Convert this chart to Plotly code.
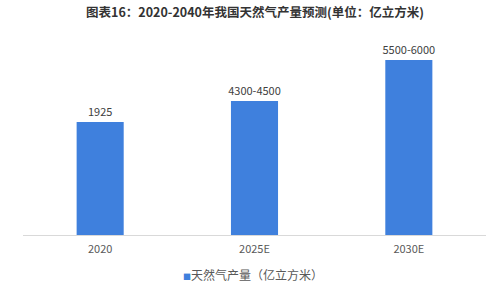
import plotly.graph_objects as go

categories = ["2020", "2025E", "2030E"]
# bar heights as drawn (the source chart is not to scale; estimated from pixel heights)
bar_values = [1925, 2283, 2981]
value_labels = ["1925", "4300-4500", "5500-6000"]
series_name = "天然气产量（亿立方米）"
title_text = "图表16：2020-2040年我国天然气产量预测(单位：亿立方米)"

FONT = "Noto Sans CJK SC"
BAR_COLOR = "#3F80DD"

fig = go.Figure()
fig.add_trace(go.Bar(
    x=categories,
    y=bar_values,
    name=series_name,
    text=value_labels,
    textposition="outside",
    constraintext="none",
    cliponaxis=False,
    textfont=dict(size=11, color="#404040", family=FONT),
    marker=dict(color=BAR_COLOR, line=dict(width=0)),
    showlegend=False,
))

fig.add_annotation(
    xref="paper", yref="paper", x=0.497, y=-0.205, xanchor="center", yanchor="middle",
    showarrow=False,
    text="<span style='color:" + BAR_COLOR + ";font-size:8px'>■</span>" + series_name,
    font=dict(size=12, color="#595959", family=FONT),
)

fig.update_layout(
    width=500, height=284,
    margin=dict(l=23, r=14, t=40, b=49, autoexpand=False),
    paper_bgcolor="white", plot_bgcolor="white",
    bargap=0.695,
    font=dict(family=FONT, color="#595959"),
    title=dict(text="<b>" + title_text + "</b>", x=0.51, xanchor="center",
               y=1 - 13 / 284, yanchor="middle",
               font=dict(size=12.5, color="#333333", family=FONT)),
    xaxis=dict(showline=True, linecolor="#D9D9D9", linewidth=1,
               showgrid=False, ticks="", ticklabelstandoff=4,
               tickfont=dict(size=11, color="#595959")),
    yaxis=dict(visible=False, range=[0, 3322]),
    showlegend=False,
)

fig.write_html("out.html")
